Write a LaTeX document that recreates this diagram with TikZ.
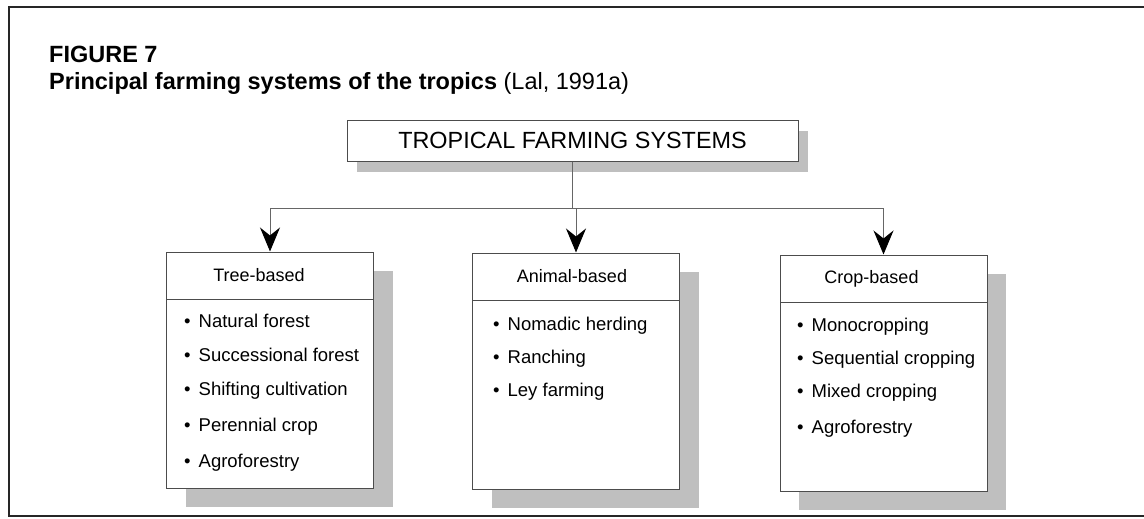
\documentclass[tikz,border=0pt]{standalone}
\usepackage{fontspec}
\setmainfont{Liberation Sans}
\usetikzlibrary{arrows.meta,positioning,shadows}

\begin{document}
\begin{tikzpicture}[x=1pt,y=-1pt,
  catbox/.style={draw=black!70,line width=1pt,fill=white,minimum width=207pt,minimum height=236pt,inner sep=0pt,
    drop shadow={shadow xshift=19pt,shadow yshift=-19pt,fill=gray!50,opacity=1}},
  headbox/.style={draw=black!70,line width=1pt,minimum width=207pt,minimum height=47pt,inner sep=0pt,anchor=north,
    font=\fontsize{18}{20}\selectfont},
  item/.style={anchor=base west,inner sep=0pt,font=\fontsize{18.5}{20}\selectfont},
  link/.style={draw=black!60,line width=1pt,-{Stealth[length=24pt,width=20pt,inset=8pt,black]}}]
\useasboundingbox (0,0) rectangle (1144,519);
% page frame
\draw[line width=2.2pt,black!85] (1144,7) -- (9,7) -- (9,516) -- (1144,516);

% caption
\node[anchor=base west,inner sep=0pt,font=\fontsize{23.5}{26}\selectfont\bfseries] (fig) at (49,63) {FIGURE 7};
\node[anchor=base west,inner sep=0pt,font=\fontsize{23.5}{26}\selectfont] (cap) at (49,90)
  {\textbf{Principal farming systems of the tropics} (Lal, 1991a)};

% root
\node[draw=black!70,line width=1pt,fill=white,minimum width=451pt,minimum height=41pt,inner sep=0pt,
  font=\fontsize{23.4}{26}\selectfont,
  drop shadow={shadow xshift=10pt,shadow yshift=-11pt,fill=gray!50,opacity=1}] (tfs) at (572.5,140.5)
  {TROPICAL FARMING SYSTEMS};

% three groups
\node[catbox] (tree) at (270,370) {};
\node[catbox] (animal) at (576,371) {};
\node[catbox] (crop) at (883.5,373) {};
\node[headbox] (treehd) at (tree.north) {\hspace*{-22pt}Tree-based};
\node[headbox] (animalhd) at (animal.north) {\hspace*{-8pt}Animal-based};
\node[headbox] (crophd) at (crop.north) {\hspace*{-24pt}Crop-based};

\draw[link] (tfs.south) -- ++(0,47) -| (tree.north);
\draw[link] (tfs.south) -- ++(0,47) -| (animal.north);
\draw[link] (tfs.south) -- ++(0,47) -| (crop.north);

% lists
\foreach \y/\txt [count=\i] in {327/Natural forest,361/Successional forest,395/Shifting cultivation,431/Perennial crop,467/Agroforestry}
  \node[item] (tree\i) at (184,\y) {\textbullet\hspace{8pt}\txt};
\foreach \y/\txt [count=\i] in {330/Nomadic herding,363/Ranching,396/Ley farming}
  \node[item] (animal\i) at (493,\y) {\textbullet\hspace{8pt}\txt};
\foreach \y/\txt [count=\i] in {331/Monocropping,364/Sequential cropping,397/Mixed cropping,433/Agroforestry}
  \node[item] (crop\i) at (797,\y) {\textbullet\hspace{8pt}\txt};
\end{tikzpicture}
\end{document}
